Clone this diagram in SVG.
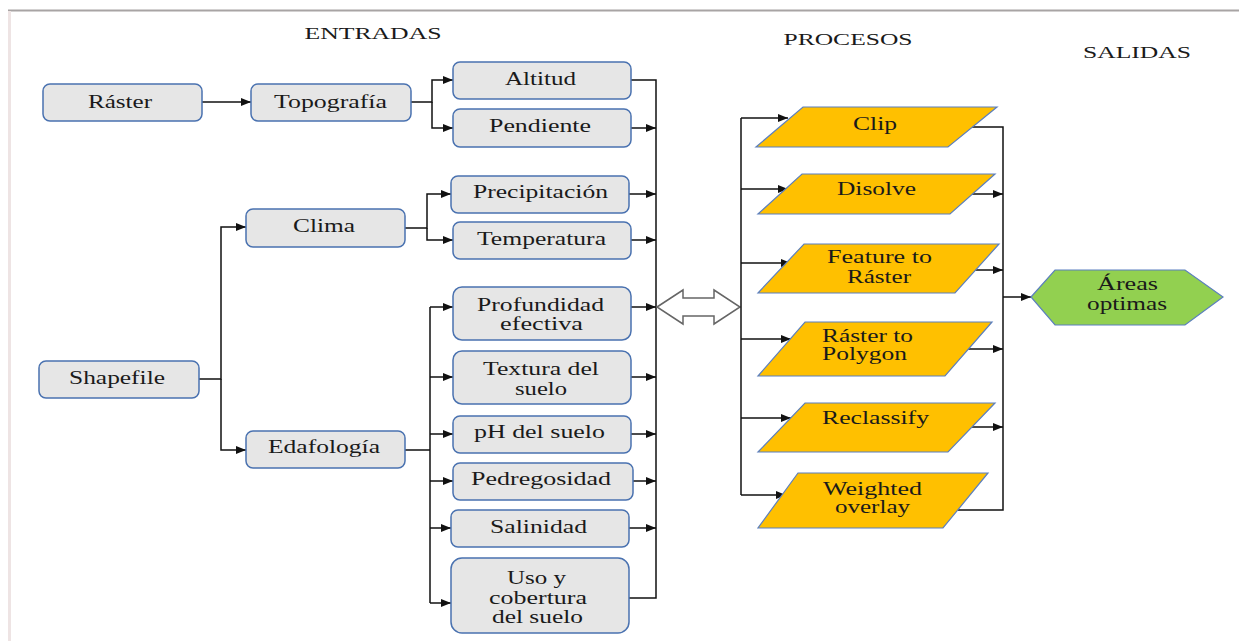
<svg xmlns="http://www.w3.org/2000/svg" width="1239" height="641" viewBox="0 0 1239 641">
<style>
.bx{fill:#e6e6e6;stroke:#4a72b0;stroke-width:1.5}
.pg{fill:#ffc000;stroke:#5b7fbf;stroke-width:1.2}
.hx{fill:#92d050;stroke:#5b7fbf;stroke-width:1.2}
.t{font-family:"Liberation Serif","Times New Roman",serif;font-size:18px;fill:#1a1a1a;text-anchor:middle}
.h{font-family:"Liberation Serif","Times New Roman",serif;font-size:17px;fill:#1a1a1a;text-anchor:middle}
.c{fill:none;stroke:#111;stroke-width:1.5}
.a{fill:none;stroke:#111;stroke-width:1.5;marker-end:url(#ar)}
</style>
<defs>
<marker id="ar" markerUnits="userSpaceOnUse" markerWidth="12" markerHeight="10" refX="10" refY="4" orient="auto">
<path d="M0,0 L10,4 L0,8 Z" fill="#111"/>
</marker>
</defs>
<rect x="0" y="0" width="1239" height="641" fill="#fff"/>
<line x1="8" y1="10.5" x2="1239" y2="10.5" stroke="#a8a4a4" stroke-width="2"/>
<line x1="9.5" y1="11" x2="9.5" y2="641" stroke="#eee4e4" stroke-width="3"/>

<g id="titles">
<text class="h" x="373" y="39" textLength="137" lengthAdjust="spacingAndGlyphs">ENTRADAS</text>
<text class="h" x="848" y="45" textLength="129" lengthAdjust="spacingAndGlyphs">PROCESOS</text>
<text class="h" x="1137" y="58" textLength="108" lengthAdjust="spacingAndGlyphs">SALIDAS</text>
</g>

<g id="connectors">
<path class="a" d="M202,102 H251"/>
<path class="a" d="M411,102 H432 V80 H453"/>
<path class="a" d="M432,102 V128 H453"/>
<path class="c" d="M631,80 H656 V598 H629"/>
<path class="a" d="M631,128 H656"/>
<path class="a" d="M629,194 H656"/>
<path class="a" d="M631,240 H656"/>
<path class="a" d="M631,307 H656"/>
<path class="a" d="M631,377 H656"/>
<path class="a" d="M631,434 H656"/>
<path class="a" d="M633,481 H656"/>
<path class="a" d="M629,528 H656"/>
<path class="a" d="M199,379 H221 V227 H246"/>
<path class="a" d="M221,379 V450 H246"/>
<path class="a" d="M405,228 H427 V194 H451"/>
<path class="a" d="M427,228 V240 H453"/>
<path class="c" d="M405,450 H430 M430,307 V603"/>
<path class="a" d="M430,307 H453"/>
<path class="a" d="M430,377 H453"/>
<path class="a" d="M430,434 H453"/>
<path class="a" d="M430,481 H453"/>
<path class="a" d="M430,528 H451"/>
<path class="a" d="M430,603 H451"/>
<path d="M657,307 L683,290 L683,298 L714,298 L714,290 L740,307 L714,324 L714,316 L683,316 L683,324 Z" fill="#fff" stroke="#666" stroke-width="1.5"/>
<path class="c" d="M741,118 V495"/>
<path class="a" d="M741,118 H788"/>
<path class="a" d="M741,189 H788"/>
<path class="a" d="M741,263 H791"/>
<path class="a" d="M741,339 H791"/>
<path class="a" d="M741,418 H791"/>
<path class="a" d="M741,495 H786"/>
<path class="c" d="M972,127 H1003 V510 H958"/>
<path class="a" d="M972,194 H1003"/>
<path class="a" d="M975,270 H1003"/>
<path class="a" d="M968,349 H1003"/>
<path class="a" d="M972,427 H1003"/>
<path class="a" d="M1003,297 H1031"/>
</g>

<g id="raster"><rect class="bx" x="43" y="84" width="159" height="37" rx="7"/><text class="t" x="120" y="108" textLength="64" lengthAdjust="spacingAndGlyphs">Ráster</text></g>
<g id="topografia"><rect class="bx" x="251" y="84" width="160" height="37" rx="7"/><text class="t" x="330.5" y="108" textLength="113" lengthAdjust="spacingAndGlyphs">Topografía</text></g>
<g id="altitud"><rect class="bx" x="453" y="62" width="178" height="37" rx="7"/><text class="t" x="540.5" y="85" textLength="71" lengthAdjust="spacingAndGlyphs">Altitud</text></g>
<g id="pendiente"><rect class="bx" x="453" y="109" width="178" height="38" rx="7"/><text class="t" x="540" y="132" textLength="102" lengthAdjust="spacingAndGlyphs">Pendiente</text></g>
<g id="shapefile"><rect class="bx" x="39" y="361" width="160" height="37" rx="7"/><text class="t" x="117" y="384" textLength="96" lengthAdjust="spacingAndGlyphs">Shapefile</text></g>
<g id="clima"><rect class="bx" x="246" y="209" width="159" height="38" rx="7"/><text class="t" x="324" y="232" textLength="62" lengthAdjust="spacingAndGlyphs">Clima</text></g>
<g id="edafologia"><rect class="bx" x="246" y="431" width="159" height="37" rx="7"/><text class="t" x="324" y="453" textLength="112" lengthAdjust="spacingAndGlyphs">Edafología</text></g>
<g id="precipitacion"><rect class="bx" x="451" y="176" width="178" height="37" rx="7"/><text class="t" x="540.5" y="198" textLength="135" lengthAdjust="spacingAndGlyphs">Precipitación</text></g>
<g id="temperatura"><rect class="bx" x="453" y="222" width="178" height="37" rx="7"/><text class="t" x="541.5" y="245" textLength="129" lengthAdjust="spacingAndGlyphs">Temperatura</text></g>
<g id="profundidad"><rect class="bx" x="453" y="287" width="178" height="53" rx="9"/><text class="t" x="540.5" y="311" textLength="127" lengthAdjust="spacingAndGlyphs">Profundidad</text><text class="t" x="541.5" y="330" textLength="83" lengthAdjust="spacingAndGlyphs">efectiva</text></g>
<g id="textura"><rect class="bx" x="453" y="351" width="178" height="53" rx="9"/><text class="t" x="541" y="375" textLength="116" lengthAdjust="spacingAndGlyphs">Textura del</text><text class="t" x="541" y="395" textLength="52" lengthAdjust="spacingAndGlyphs">suelo</text></g>
<g id="ph"><rect class="bx" x="453" y="416" width="178" height="37" rx="7"/><text class="t" x="539.5" y="438" textLength="131" lengthAdjust="spacingAndGlyphs">pH del suelo</text></g>
<g id="pedregosidad"><rect class="bx" x="453" y="463" width="180" height="37" rx="7"/><text class="t" x="541" y="485" textLength="140" lengthAdjust="spacingAndGlyphs">Pedregosidad</text></g>
<g id="salinidad"><rect class="bx" x="451" y="510" width="178" height="37" rx="7"/><text class="t" x="538.5" y="533" textLength="97" lengthAdjust="spacingAndGlyphs">Salinidad</text></g>
<g id="uso"><rect class="bx" x="451" y="558" width="178" height="75" rx="11"/><text class="t" x="536.5" y="584" textLength="59" lengthAdjust="spacingAndGlyphs">Uso y</text><text class="t" x="538" y="604" textLength="98" lengthAdjust="spacingAndGlyphs">cobertura</text><text class="t" x="537.5" y="623" textLength="91" lengthAdjust="spacingAndGlyphs">del suelo</text></g>

<g id="clip"><polygon class="pg" points="803,107 997,107 948,147 756,147"/><text class="t" x="875" y="130" textLength="44" lengthAdjust="spacingAndGlyphs">Clip</text></g>
<g id="disolve"><polygon class="pg" points="802,174 995,174 950,214 758,214"/><text class="t" x="876.5" y="195" textLength="79" lengthAdjust="spacingAndGlyphs">Disolve</text></g>
<g id="feature"><polygon class="pg" points="804,244 999,244 955,293 758,293"/><text class="t" x="879.5" y="263" textLength="105" lengthAdjust="spacingAndGlyphs">Feature to</text><text class="t" x="879" y="283" textLength="64" lengthAdjust="spacingAndGlyphs">Ráster</text></g>
<g id="rastertopolygon"><polygon class="pg" points="805,322 992,322 945,376 758,376"/><text class="t" x="867.5" y="342" textLength="91" lengthAdjust="spacingAndGlyphs">Ráster to</text><text class="t" x="864.5" y="360" textLength="85" lengthAdjust="spacingAndGlyphs">Polygon</text></g>
<g id="reclassify"><polygon class="pg" points="805,403 995,403 948,452 758,452"/><text class="t" x="875.5" y="424" textLength="107" lengthAdjust="spacingAndGlyphs">Reclassify</text></g>
<g id="weighted"><polygon class="pg" points="798,473 988,473 943,528 758,528"/><text class="t" x="872.5" y="495" textLength="99" lengthAdjust="spacingAndGlyphs">Weighted</text><text class="t" x="872.5" y="513" textLength="75" lengthAdjust="spacingAndGlyphs">overlay</text></g>

<g id="areas"><polygon class="hx" points="1031,297 1055,270 1185,270 1223,297 1185,325 1055,325"/><text class="t" x="1127.5" y="290" textLength="61" lengthAdjust="spacingAndGlyphs">Áreas</text><text class="t" x="1127" y="310" textLength="80" lengthAdjust="spacingAndGlyphs">optimas</text></g>
</svg>
